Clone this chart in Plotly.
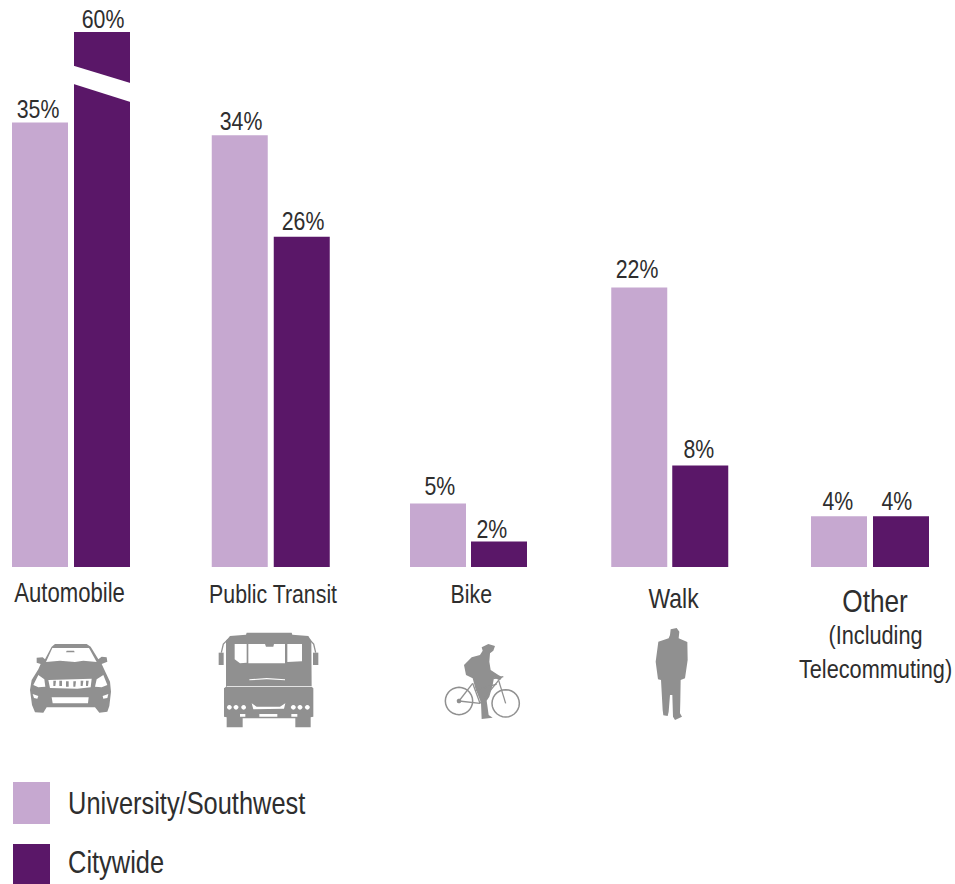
import json
import math

import plotly.graph_objects as go

W, H = 955, 884

modes = ["Automobile", "Public Transit", "Bike", "Walk", "Other"]
university = [35, 34, 5, 22, 4]
citywide = [60, 26, 2, 8, 4]
series_names = ["University/Southwest", "Citywide"]

LIGHT = "#C6A8D0"
DARK = "#5A1768"
INK = "#2E2E2E"
ICON = "#909090"
FONT = "Liberation Sans, Arial, sans-serif"
CONDENSE = 0.82  # horizontal squeeze applied to all text for a narrow face

# Linear scale of 12.7 px per percent; the axis stops short of the tallest bar,
# which is cut off at the top and carries a break mark.
PX_PER_PCT = 12.7
PLOT_TOP, PLOT_BOTTOM = 32, 567
y_top = (PLOT_BOTTOM - PLOT_TOP) / PX_PER_PCT
GROUP_STEP = 199.75
GROUP_ZERO = 71
BAR_PX = 56

# Pixel nudges for the slightly uneven group layout
light_nudge = [0, 0, -1.5, 0, 0]
dark_nudge = [0, 0, -2.5, -1, 0]
light_label_nudge = [-2, 1, 0, -2, -1]
dark_label_nudge = [1, 1, -10, -2, -4]
light_label_lift = [-4, -3, 1, 2, -2]
dark_label_lift = [-4, -1, -4, -1, -2]


def px(x):
    return x / W


def py(y):
    return 1 - y / H


def poly_path(points, ox=0, oy=0, s=1.0):
    coords = [(px(ox + a * s), py(oy + b * s)) for a, b in points]
    return "M " + " L ".join(f"{a:.5f},{b:.5f}" for a, b in coords) + " Z"


def open_path(points, ox=0, oy=0, s=1.0):
    coords = [(px(ox + a * s), py(oy + b * s)) for a, b in points]
    return "M " + " L ".join(f"{a:.5f},{b:.5f}" for a, b in coords)


def ring_points(cx, cy, r, n=28):
    return [(cx + r * math.cos(2 * math.pi * i / n), cy + r * math.sin(2 * math.pi * i / n)) for i in range(n)]


def filled(path, color=ICON):
    return dict(type="path", xref="paper", yref="paper", path=path, fillcolor=color,
                line=dict(width=0), layer="above")


def stroked(path, width, color=ICON):
    return dict(type="path", xref="paper", yref="paper", path=path,
                line=dict(width=width, color=color), layer="above")


shapes = []

# Break mark across the truncated bar
shapes.append(filled(poly_path([(72, 65.2), (132, 83.5), (132, 102.5), (72, 83.5)]), "#FFFFFF"))

# Legend swatches
shapes.append(dict(type="rect", xref="paper", yref="paper", x0=px(13), x1=px(50), y0=py(782), y1=py(824),
                   fillcolor=LIGHT, line=dict(width=0)))
shapes.append(dict(type="rect", xref="paper", yref="paper", x0=px(13), x1=px(50), y0=py(844), y1=py(884),
                   fillcolor=DARK, line=dict(width=0)))

# Car icon, drawn at 3x and scaled down
car = dict(ox=0, oy=620, s=1 / 3)
car_outline = [(165, 72), (260, 72), (272, 80), (295, 118), (305, 110), (320, 112), (322, 125), (305, 132),
               (318, 160), (330, 185), (333, 215), (328, 258), (322, 275), (298, 278), (285, 262),
               (140, 262), (130, 278), (105, 277), (96, 255), (90, 210), (95, 180), (115, 148), (122, 132),
               (110, 128), (110, 113), (128, 112), (135, 118), (155, 80)]
car_holes = [
    [(138, 126), (157, 84), (267, 84), (290, 126), (250, 122), (225, 126), (180, 122)],
    [(100, 195), (115, 165), (133, 178), (136, 200), (115, 202)],
    [(322, 195), (310, 165), (290, 178), (285, 200), (305, 202)],
    [(145, 180), (275, 176), (272, 202), (232, 206), (150, 204)],
    [(155, 232), (266, 232), (264, 250), (158, 250)],
    [(98, 222), (115, 228), (112, 236), (102, 234)],
    [(325, 222), (308, 228), (310, 236), (322, 234)],
]
car_bars = [[(160, 182), (168, 182), (166, 198), (160, 198)], [(178, 182), (186, 182), (186, 198), (178, 198)],
            [(198, 184), (206, 184), (206, 200), (198, 200)], [(220, 184), (228, 184), (226, 200), (220, 200)],
            [(242, 182), (250, 182), (248, 198), (242, 198)], [(258, 182), (266, 182), (264, 198), (258, 198)]]
shapes.append(filled(" ".join(poly_path(p, **car) for p in [car_outline] + car_holes)))
shapes.append(filled(" ".join(poly_path(p, **car) for p in car_bars)))
shapes.append(filled(poly_path([(200, 92), (222, 92), (224, 97), (198, 97)], **car)))

# Bus icon
bus_outline = [(740, 38), (875, 38), (877, 44), (925, 48), (934, 62), (935, 200), (940, 205), (940, 290),
               (932, 292), (932, 322), (886, 322), (886, 295), (728, 295), (728, 322), (680, 322), (680, 292),
               (672, 290), (672, 205), (678, 200), (678, 62), (690, 48), (738, 44)]
bus_holes = [
    [(704, 72), (740, 72), (740, 128), (720, 130), (704, 118)],
    [(745, 72), (795, 72), (798, 80), (820, 80), (822, 72), (855, 72), (855, 130), (745, 130)],
    [(862, 72), (906, 72), (906, 124), (862, 126)],
    [(748, 178), (800, 174), (855, 178), (855, 181), (800, 178), (748, 181)],
    [(680, 198), (935, 198), (935, 200), (680, 200)],
    [(755, 250), (770, 260), (840, 260), (856, 250), (852, 266), (760, 268)],
    [(778, 282), (832, 282), (832, 290), (778, 290)],
    [(720, 282), (736, 282), (736, 290), (720, 290)],
    [(874, 282), (892, 282), (892, 290), (874, 290)],
]
bus = dict(ox=0, oy=620, s=1 / 3)
shapes.append(filled(" ".join(poly_path(p, **bus) for p in [bus_outline] + bus_holes)))
for cx in (688, 708, 731, 880, 900, 922):
    shapes.append(filled(poly_path(ring_points(cx, 262, 7, 12), **bus), "#FFFFFF"))
shapes.append(filled(poly_path([(656, 98), (671, 98), (671, 135), (656, 135)], **bus)))
shapes.append(filled(poly_path([(939, 98), (955, 98), (955, 135), (939, 135)], **bus)))
shapes.append(stroked(open_path([(664, 98), (670, 72), (684, 58)], **bus), 1.3))
shapes.append(stroked(open_path([(947, 98), (941, 72), (928, 58)], **bus), 1.3))

# Cyclist icon
rider = dict(ox=430, oy=620, s=1 / 3)
for cx, cy in ((87, 243), (227, 250)):
    shapes.append(stroked(poly_path(ring_points(cx, cy, 41), **rider), 1.5))
rider_body = [(155, 82), (175, 72), (195, 78), (190, 92), (180, 100), (178, 125), (182, 150), (205, 165),
              (217, 172), (210, 181), (192, 173), (188, 195), (178, 230), (170, 242), (176, 285), (188, 293),
              (155, 297), (153, 248), (136, 205), (128, 175), (108, 165), (102, 135), (125, 112), (150, 105),
              (158, 92)]
shapes.append(filled(poly_path(rider_body, **rider)))
for seg in ([(87, 243), (128, 190)], [(128, 190), (150, 250)], [(205, 182), (150, 250)],
            [(135, 212), (200, 192)], [(87, 243), (150, 250)], [(205, 178), (227, 250)],
            [(190, 176), (220, 170)]):
    shapes.append(stroked(open_path(seg, **rider), 1.3))
shapes.append(filled(poly_path(ring_points(87, 243, 7, 10), **rider)))

# Pedestrian icon
walker = [(722, 28), (740, 24), (748, 35), (746, 55), (772, 66), (773, 120), (765, 175), (752, 180),
          (751, 240), (750, 280), (756, 290), (735, 300), (729, 290), (727, 225), (720, 225), (716, 275),
          (713, 288), (700, 286), (698, 270), (693, 180), (684, 178), (677, 125), (685, 65), (716, 55), (720, 45)]
shapes.append(filled(poly_path(walker, ox=430, oy=620, s=1 / 3)))

annotations = []


def add_text(text, x, y, size, anchor="center"):
    annotations.append(dict(text=text, x=px(x), y=py(y), xref="paper", yref="paper", showarrow=False,
                            xanchor=anchor, yanchor="middle", align="center",
                            font=dict(family=FONT, size=size, color=INK)))


# Value labels sit just above each bar; the cut-off bar's label sits above the axis top
for i in range(len(modes)):
    for values, base, nudges, lifts in ((university, -31, light_label_nudge, light_label_lift),
                                        (citywide, 31, dark_label_nudge, dark_label_lift)):
        annotations.append(dict(text=f"{values[i]}%", x=i, y=min(values[i], y_top), xref="x", yref="y",
                                xshift=base + nudges[i], showarrow=False, xanchor="center", yanchor="bottom",
                                yshift=lifts[i], font=dict(family=FONT, size=26, color=INK)))

add_text(modes[0], 69, 593, 27)
add_text(modes[1], 273, 594, 26)
add_text(modes[2], 471, 594, 26)
add_text(modes[3], 674, 598, 28)
add_text(modes[4], 875, 601, 32)
add_text("(Including<br>Telecommuting)", 875, 652, 26.5)
add_text(series_names[0], 66, 803, 31, "left")
add_text(series_names[1], 66, 862, 31, "left")

bar_width = BAR_PX / GROUP_STEP
light_offset = [(-59 + n) / GROUP_STEP for n in light_nudge]
dark_offset = [(3 + n) / GROUP_STEP for n in dark_nudge]

fig = go.Figure()
fig.add_bar(x=modes, y=university, name=series_names[0], width=bar_width, offset=light_offset,
            marker=dict(color=LIGHT, line=dict(width=0)))
fig.add_bar(x=modes, y=citywide, name=series_names[1], width=bar_width, offset=dark_offset,
            marker=dict(color=DARK, line=dict(width=0)))

fig.update_layout(
    width=W, height=H, margin=dict(l=0, r=0, t=0, b=0, autoexpand=False),
    paper_bgcolor="#FFFFFF", plot_bgcolor="#FFFFFF", showlegend=False,
    barmode="group",
    shapes=shapes, annotations=annotations,
    xaxis=dict(type="category", categoryorder="array", categoryarray=modes, visible=False,
               range=[-GROUP_ZERO / GROUP_STEP, (W - GROUP_ZERO) / GROUP_STEP]),
    yaxis=dict(visible=False, range=[0, y_top], domain=[py(PLOT_BOTTOM), py(PLOT_TOP)]),
)

# Squeeze the text horizontally around its own anchor to get a condensed look
condense_js = """
var leftAligned = %s;
document.querySelectorAll('.annotation-text').forEach(function (t) {
  var left = leftAligned.indexOf(t.textContent) !== -1;
  t.style.transformBox = 'fill-box';
  t.style.transformOrigin = left ? 'left center' : 'center center';
  t.style.transform = 'scaleX(%s)';
});
""" % (json.dumps(series_names), CONDENSE)

fig.write_html("out.html", post_script=condense_js)
